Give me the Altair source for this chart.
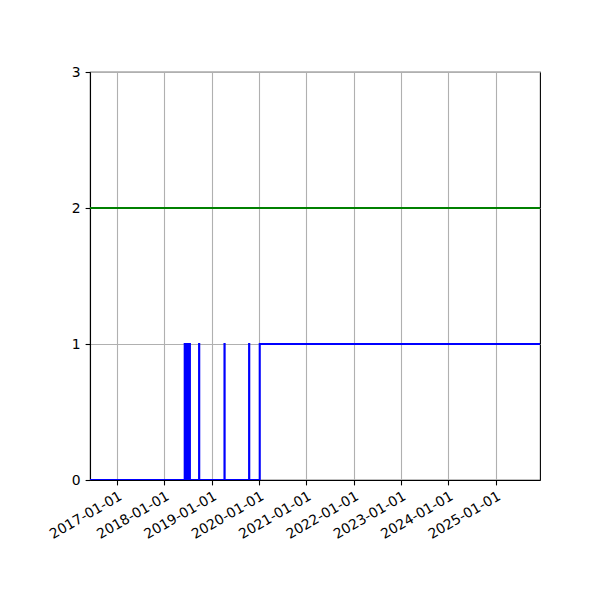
import altair as alt
import pandas as pd

# ---- data ----
start_date = "2016-06-07"
end_date = "2025-12-10"
spike_dates = [
    "2018-06-08", "2018-06-11", "2018-06-14", "2018-06-17", "2018-06-20",
    "2018-06-23", "2018-06-26", "2018-06-29", "2018-07-02", "2018-07-05",
    "2018-07-08", "2018-07-11", "2018-07-14", "2018-07-17",
    "2018-09-27", "2019-04-11", "2019-10-18",
]
rise_date = "2020-01-08"
green_level = 2
tick_years = [2017, 2018, 2019, 2020, 2021, 2022, 2023, 2024, 2025]
y_ticks = [0, 1, 2, 3]

# ---- build table ----
rows = [(pd.Timestamp(start_date), 0)]
for d in spike_dates:
    t = pd.Timestamp(d)
    rows.append((t, 1))
    rows.append((t + pd.Timedelta(days=1), 0))
rows.append((pd.Timestamp(rise_date), 1))
rows.append((pd.Timestamp(end_date), 1))
df = pd.DataFrame(rows, columns=["date", "value"])

s = pd.Timestamp(start_date)
e = pd.Timestamp(end_date)
x_scale = alt.Scale(
    domain=[alt.DateTime(year=s.year, month=s.month, date=s.day),
            alt.DateTime(year=e.year, month=e.month, date=e.day)],
    nice=False,
)
x_axis = alt.Axis(
    values=[alt.DateTime(year=y, month=1, date=1) for y in tick_years],
    format="%Y-%m-%d",
    labelAngle=330,
    labelAlign="right",
    labelBaseline="top",
    labelOverlap=False,
    labelBound=False,
    labelFlush=False,
    title=None,
    labelPadding=4,
)
y_scale = alt.Scale(domain=[0, 3], nice=False, zero=False)
y_axis = alt.Axis(values=y_ticks, format="d", title=None, labelPadding=5)

blue = alt.Chart(df).mark_line(
    color="#0000ff", strokeWidth=2.08, interpolate="step-after", clip=True
).encode(
    x=alt.X("date:T", scale=x_scale, axis=x_axis),
    y=alt.Y("value:Q", scale=y_scale, axis=y_axis),
)

green = alt.Chart(pd.DataFrame({"level": [green_level]})).mark_rule(
    color="#008000", strokeWidth=2.08
).encode(y=alt.Y("level:Q", scale=y_scale))

chart = alt.layer(blue, green).properties(
    width=450,
    height=408,
    autosize=alt.AutoSizeParams(type="none"),
    padding={"left": 82, "top": 64, "right": 52, "bottom": 112},
).configure_view(
    stroke="black", strokeWidth=1.1
).configure_axis(
    domainColor="black",
    domainWidth=1.1,
    tickColor="black",
    tickWidth=1.1,
    tickSize=4.9,
    labelColor="black",
    labelFont="DejaVu Sans",
    labelFontSize=13.9,
    grid=True,
    gridColor="#b0b0b0",
    gridWidth=1.1,
)

chart.save("out.html", embed_options={"renderer": "svg", "actions": False})
